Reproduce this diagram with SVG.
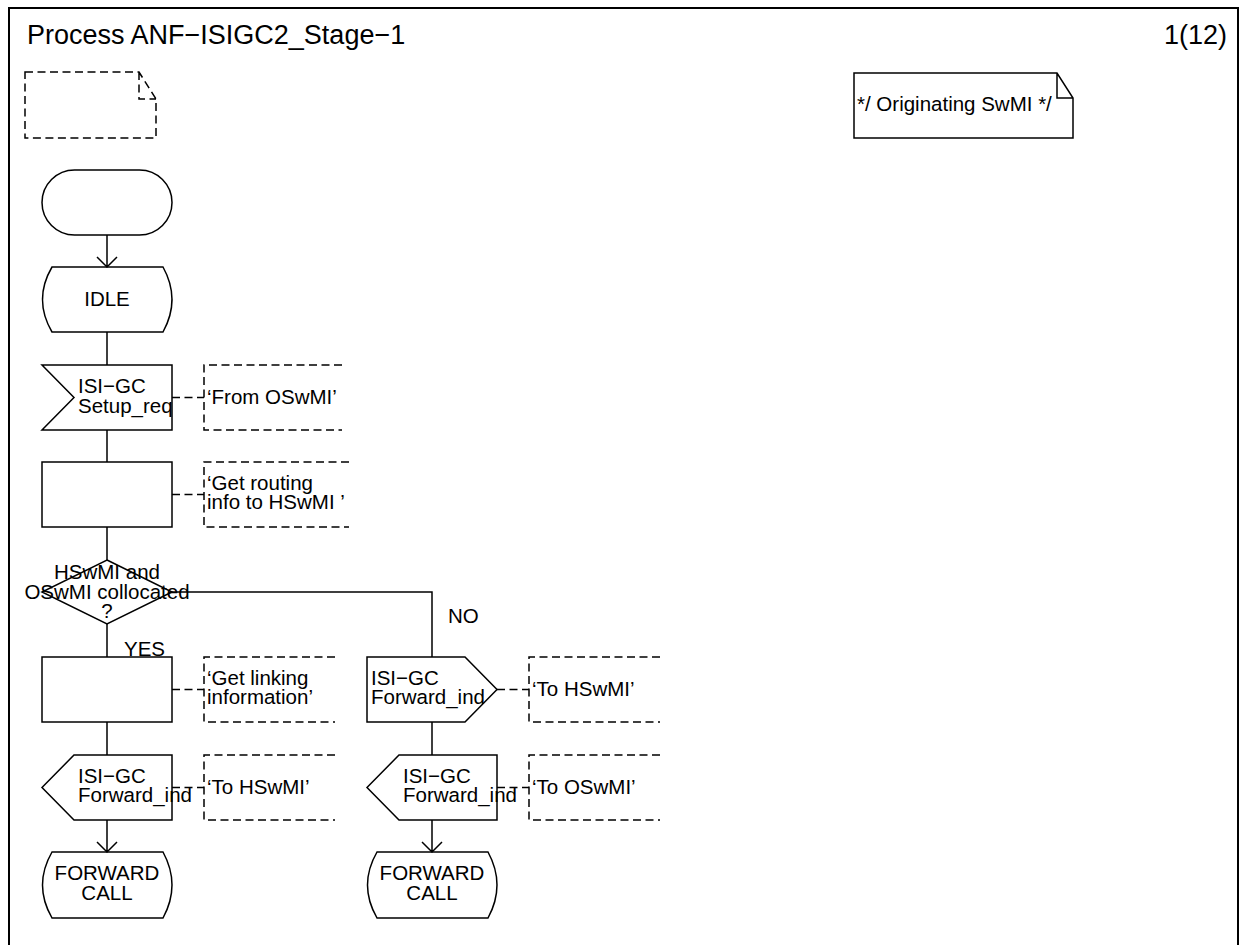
<svg xmlns="http://www.w3.org/2000/svg" width="1244" height="945" viewBox="0 0 1244 945">
<style>
.s{fill:none;stroke:#000;stroke-width:1.5}
.d{fill:none;stroke:#000;stroke-width:1.5;stroke-dasharray:8 4.5}
text{font-family:"Liberation Sans",Arial,sans-serif;font-size:20.5px;fill:#000}
.c{text-anchor:middle}
.t{font-size:27px}
</style>
<rect x="9" y="8" width="1229" height="950" fill="#fff" stroke="#000" stroke-width="2"/>
<text class="t" x="27" y="44">Process ANF−ISIGC2_Stage−1</text>
<text class="t" x="1227" y="44" text-anchor="end">1(12)</text>

<g id="connectors">
<path class="s" d="M107,235V267M97,257L107,267L117,257"/>
<path class="s" d="M107,332V365M107,430V462M107,527V560M107,624V657M107,722V755M107,820V852M97,842L107,852L117,842"/>
<path class="s" d="M172,592H432V657M432,722V755M432,820V852M422,842L432,852L442,842"/>
<path class="d" d="M172,397.5H204M172,494.5H204M172,689.5H204M172,787.5H204M497,689.5H529M497,787.5H529"/>
</g>

<g id="textnote">
<path class="d" d="M25,72H139L156,99V138H25Z M139,72V99H156"/>
</g>
<g id="originating">
<path class="s" d="M854,73H1057L1073,98V138H854Z M1057,73V98H1073"/>
<text x="857" y="111">*/ Originating SwMI */</text>
</g>

<g id="start">
<rect class="s" x="42" y="170" width="130" height="65" rx="32.5"/>
</g>
<g id="idle">
<path class="s" d="M52,267H163Q181,299.5 163,332H52Q33,299.5 52,267Z"/>
<text class="c" x="107" y="306">IDLE</text>
</g>
<g id="setup">
<path class="s" d="M42,365H172V430H42L74,397.5Z"/>
<text x="78" y="393">ISI−GC</text>
<text x="78" y="413">Setup_req</text>
</g>
<g id="c_setup">
<path class="d" d="M342,365H204V430H342"/>
<text x="207" y="404">‘From OSwMI’</text>
</g>
<g id="task1">
<rect class="s" x="42" y="462" width="130" height="65"/>
</g>
<g id="c_task1">
<path class="d" d="M349,462H204V527H349"/>
<text x="207" y="490">‘Get routing</text>
<text x="207" y="509">info to HSwMI ’</text>
</g>
<g id="decision">
<path class="s" d="M107,560L172,592L107,624L42,592Z"/>
<text class="c" x="107" y="579">HSwMI and</text>
<text class="c" x="107" y="599">OSwMI collocated</text>
<text class="c" x="107" y="618">?</text>
</g>
<text x="124" y="656">YES</text>
<text x="448" y="623">NO</text>
<g id="task2">
<rect class="s" x="42" y="657" width="130" height="65"/>
</g>
<g id="c_task2">
<path class="d" d="M335,657H204V722H335"/>
<text x="207" y="685">‘Get linking</text>
<text x="207" y="704">information’</text>
</g>
<g id="out_left">
<path class="s" d="M74,755H172V820H74L42,787.5Z"/>
<text x="78" y="783">ISI−GC</text>
<text x="78" y="802">Forward_ind</text>
</g>
<g id="c_out_left">
<path class="d" d="M335,755H204V820H335"/>
<text x="207" y="794">‘To HSwMI’</text>
</g>
<g id="fwd_left">
<path class="s" d="M52,852H163Q181,885 163,918H52Q33,885 52,852Z"/>
<text class="c" x="107" y="880">FORWARD</text>
<text class="c" x="107" y="900">CALL</text>
</g>
<g id="out_right1">
<path class="s" d="M367,657H465L497,689.5L465,722H367Z"/>
<text x="371" y="685">ISI−GC</text>
<text x="371" y="704">Forward_ind</text>
</g>
<g id="c_out_right1">
<path class="d" d="M660,657H529V722H660"/>
<text x="532" y="696">‘To HSwMI’</text>
</g>
<g id="out_right2">
<path class="s" d="M399,755H497V820H399L367,787.5Z"/>
<text x="403" y="783">ISI−GC</text>
<text x="403" y="802">Forward_ind</text>
</g>
<g id="c_out_right2">
<path class="d" d="M660,755H529V820H660"/>
<text x="532" y="794">‘To OSwMI’</text>
</g>
<g id="fwd_right">
<path class="s" d="M377,852H488Q506,885 488,918H377Q358,885 377,852Z"/>
<text class="c" x="432" y="880">FORWARD</text>
<text class="c" x="432" y="900">CALL</text>
</g>
</svg>
